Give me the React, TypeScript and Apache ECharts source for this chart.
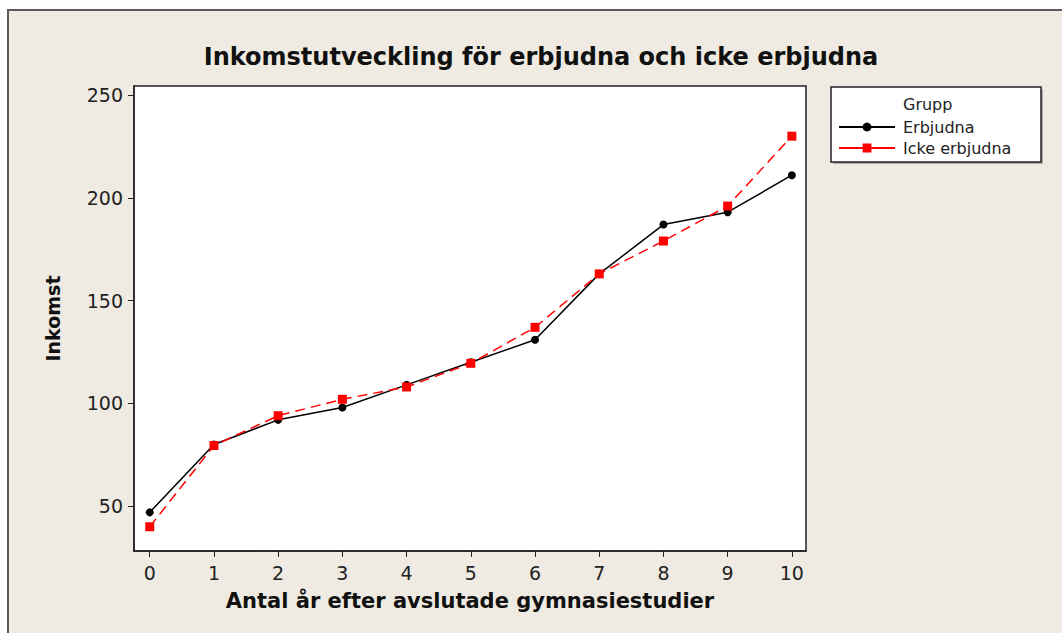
import React, { useEffect, useRef } from "react";
import * as echarts from "echarts";

const years = [0, 1, 2, 3, 4, 5, 6, 7, 8, 9, 10];
const erbjudna = [47, 80, 92, 98, 109, 120, 131, 163, 187, 193, 211];
const ickeErbjudna = [40, 79.5, 94, 102, 108, 119.5, 137, 163, 179, 196, 230];
const xTicks = [0, 1, 2, 3, 4, 5, 6, 7, 8, 9, 10];
const yTicks = [50, 100, 150, 200, 250];

const FONT = "DejaVu Sans";

export default function App() {
  const ref = useRef<HTMLDivElement>(null);
  useEffect(() => {
    if (!ref.current) return;
    const chart = echarts.init(ref.current, undefined, { renderer: "svg" });
    chart.setOption({
      animation: false,
      backgroundColor: "#ffffff",
      graphic: [
        {
          type: "rect",
          z: -10,
          shape: { x: 8, y: 10, width: 1080, height: 640 },
          style: { fill: "#efebe2", stroke: "#5a5a5a", lineWidth: 2 },
        },
        {
          type: "rect",
          z: 1,
          shape: { x: 833, y: 89, width: 210, height: 75 },
          style: { fill: "#b0aca6", stroke: null },
        },
        {
          type: "rect",
          z: 2,
          shape: { x: 831, y: 87, width: 210, height: 75 },
          style: { fill: "#ffffff", stroke: "#222222", lineWidth: 1.5 },
        },
        {
          type: "text",
          z: 3,
          x: 903,
          y: 104,
          style: {
            text: "Grupp",
            font: `16px ${FONT}`,
            fill: "#222",
            verticalAlign: "middle",
          },
        },
      ],
      title: {
        text: "Inkomstutveckling för erbjudna och icke erbjudna",
        left: 536,
        top: 40,
        textAlign: "center",
        textStyle: {
          fontFamily: FONT,
          fontWeight: "bold",
          fontSize: 24,
          color: "#111",
        },
      },
      legend: {
        orient: "vertical",
        left: 838,
        top: 119,
        padding: 0,
        itemWidth: 56,
        itemHeight: 11,
        itemGap: 5,
        z: 5,
        textStyle: { fontFamily: FONT, fontSize: 16, color: "#222", padding: [0, 0, 0, 3] },
        data: [
          { name: "Erbjudna" },
          { name: "Icke erbjudna", lineStyle: { type: "solid" } },
        ],
      },
      grid: {
        left: 134,
        top: 86,
        width: 672,
        height: 465,
        show: true,
        backgroundColor: "#ffffff",
        borderColor: "#222",
        borderWidth: 1.5,
      },
      xAxis: {
        type: "value",
        min: -0.245,
        max: 10.22,
        name: "Antal år efter avslutade gymnasiestudier",
        nameLocation: "middle",
        nameGap: 39,
        nameTextStyle: { fontFamily: FONT, fontWeight: "bold", fontSize: 21, color: "#111" },
        axisLine: { show: true, onZero: false, lineStyle: { color: "#222", width: 1.5 } },
        axisTick: { show: true, length: 6, customValues: xTicks, lineStyle: { color: "#222" } },
        axisLabel: {
          customValues: xTicks,
          fontFamily: FONT,
          fontSize: 19,
          color: "#222",
          margin: 12,
        },
        splitLine: { show: false },
      },
      yAxis: {
        type: "value",
        min: 28.2,
        max: 254.4,
        name: "Inkomst",
        nameLocation: "middle",
        nameGap: 72,
        nameTextStyle: { fontFamily: FONT, fontWeight: "bold", fontSize: 19, color: "#111" },
        axisLine: { show: true, onZero: false, lineStyle: { color: "#222", width: 1.5 } },
        axisTick: { show: true, length: 6, customValues: yTicks, lineStyle: { color: "#222" } },
        axisLabel: {
          customValues: yTicks,
          fontFamily: FONT,
          fontSize: 19,
          color: "#222",
          margin: 11,
        },
        splitLine: { show: false },
      },
      series: [
        {
          name: "Erbjudna",
          type: "line",
          data: years.map((x, i) => [x, erbjudna[i]]),
          symbol: "circle",
          symbolSize: 8,
          itemStyle: { color: "#000" },
          lineStyle: { color: "#000", width: 1.5 },
          z: 3,
        },
        {
          name: "Icke erbjudna",
          type: "line",
          data: years.map((x, i) => [x, ickeErbjudna[i]]),
          symbol: "rect",
          symbolSize: 9,
          itemStyle: { color: "#ff0000" },
          lineStyle: { color: "#ff0000", width: 1.5, type: [10, 6] },
          z: 4,
        },
      ],
    });
    return () => chart.dispose();
  }, []);
  return (
    <div
      ref={ref}
      style={{ position: "absolute", left: 0, top: 0, width: 1062, height: 633 }}
    />
  );
}
